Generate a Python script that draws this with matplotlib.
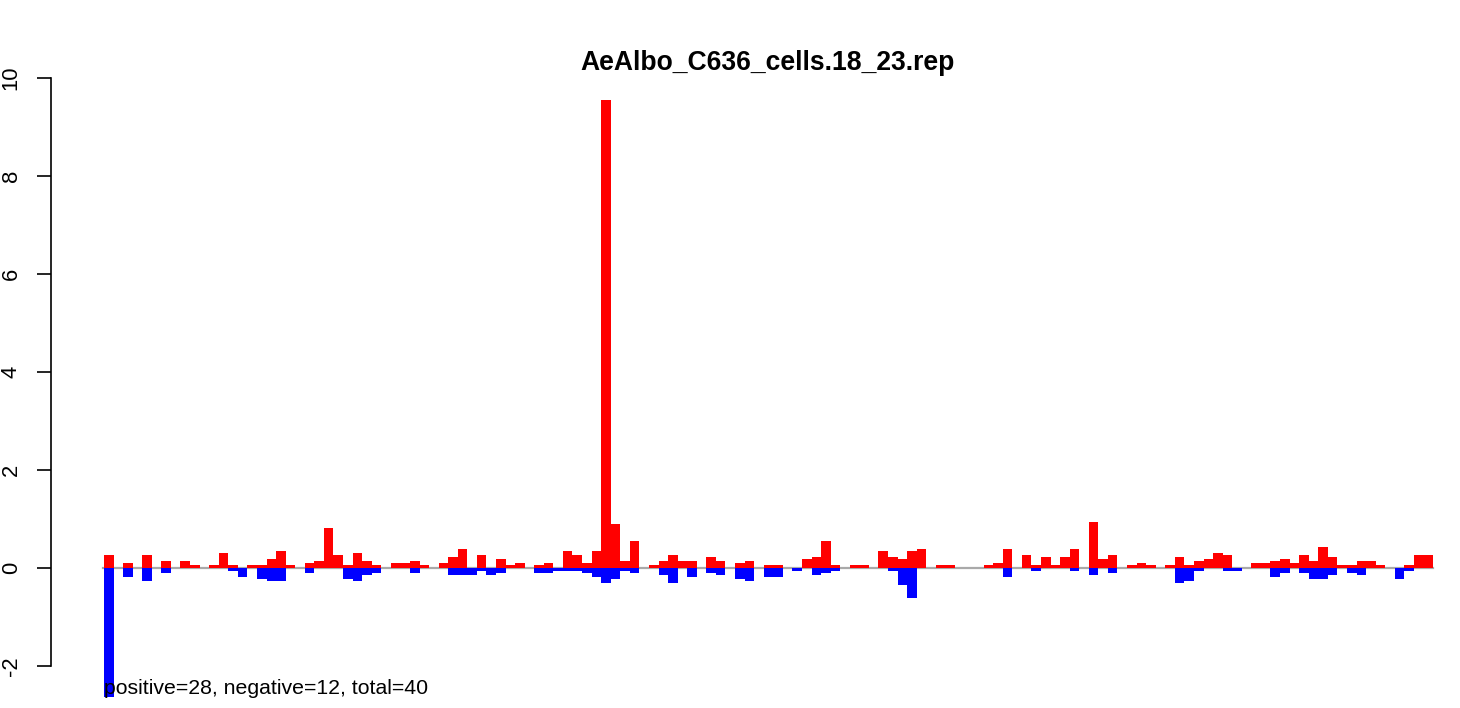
import matplotlib
matplotlib.use("Agg")
import matplotlib.pyplot as plt
import numpy as np

title = "AeAlbo_C636_cells.18_23.rep"

pos_vals = [
    0.26, 0, 0.10, 0, 0.26, 0, 0.14, 0, 0.14, 0.05,
    0, 0.05, 0.30, 0.05, 0, 0.05, 0.05, 0.18, 0.34, 0.05,
    0, 0.10, 0.14, 0.81, 0.26, 0.05, 0.30, 0.14, 0.05, 0,
    0.10, 0.10, 0.14, 0.05, 0, 0.10, 0.22, 0.38, 0, 0.26,
    0, 0.18, 0.05, 0.10, 0, 0.05, 0.10, 0, 0.34, 0.26,
    0.10, 0.34, 9.55, 0.89, 0.14, 0.54, 0, 0.05, 0.14, 0.26,
    0.14, 0.14, 0, 0.22, 0.14, 0, 0.10, 0.14, 0, 0.05,
    0.05, 0, 0, 0.18, 0.22, 0.54, 0.05, 0, 0.05, 0.05,
    0, 0.34, 0.22, 0.18, 0.34, 0.38, 0, 0.05, 0.05, 0,
    0, 0, 0.05, 0.10, 0.38, 0, 0.26, 0.05, 0.22, 0.05,
    0.22, 0.38, 0, 0.93, 0.18, 0.26, 0, 0.05, 0.10, 0.05,
    0, 0.05, 0.22, 0.05, 0.14, 0.18, 0.30, 0.26, 0, 0,
    0.10, 0.10, 0.14, 0.18, 0.10, 0.26, 0.14, 0.42, 0.22, 0.05,
    0.05, 0.14, 0.14, 0.05, 0, 0, 0.05, 0.26, 0.26,
]

neg_vals = [
    -2.63, 0, -0.19, 0, -0.27, 0, -0.11, 0, 0, 0,
    0, 0, 0, -0.07, -0.19, 0, -0.23, -0.27, -0.27, 0,
    0, -0.11, 0, 0, 0, -0.23, -0.27, -0.15, -0.11, 0,
    0, 0, -0.11, 0, 0, 0, -0.15, -0.15, -0.15, -0.07,
    -0.15, -0.11, 0, 0, 0, -0.11, -0.11, -0.07, -0.07, -0.07,
    -0.11, -0.19, -0.31, -0.23, -0.07, -0.11, 0, 0, -0.15, -0.31,
    0, -0.19, 0, -0.11, -0.15, 0, -0.23, -0.27, 0, -0.19,
    -0.19, 0, -0.07, 0, -0.15, -0.11, -0.07, 0, 0, 0,
    0, 0, -0.07, -0.35, -0.62, 0, 0, 0, 0, 0,
    0, 0, 0, 0, -0.19, 0, 0, -0.07, 0, 0,
    0, -0.07, 0, -0.15, 0, -0.11, 0, 0, 0, 0,
    0, 0, -0.31, -0.27, -0.07, 0, 0, -0.07, -0.07, 0,
    0, 0, -0.19, -0.11, 0, -0.11, -0.23, -0.23, -0.15, 0,
    -0.11, -0.15, 0, 0, 0, -0.23, -0.07, 0, 0,
]

n_positive, n_negative, n_total = 28, 12, 40
y_ticks = [-2, 0, 2, 4, 6, 8, 10]

W, H = 1460, 708
fig = plt.figure(figsize=(W / 100, H / 100), dpi=100)

# pixel geometry
ax_left_px, ax_right_px = 51, 1440
bar_left_px, bar_right_px = 104, 1433
zero_px, unit_px = 567.7, 49.0
n = len(pos_vals)
px_per_bar = (bar_right_px - bar_left_px) / n

ax = fig.add_axes([ax_left_px / W, 0, (ax_right_px - ax_left_px) / W, 1])
ax.set_xlim(-(bar_left_px - ax_left_px) / px_per_bar,
            n + (ax_right_px - bar_right_px) / px_per_bar)
ax.set_ylim((zero_px - H) / unit_px, zero_px / unit_px)

x = np.arange(n)
ax.plot([-0.1, n], [0, 0], color="#A9A9A9", lw=1.6, zorder=1)
ax.bar(x, pos_vals, width=1.0, align="edge", color="#FF0000", linewidth=0, zorder=2)
ax.bar(x, neg_vals, width=1.0, align="edge", color="#0000FF", linewidth=0, zorder=2)

for s in ["top", "right", "bottom"]:
    ax.spines[s].set_visible(False)
ax.spines["left"].set_bounds(-2, 10)
ax.spines["left"].set_linewidth(1.2)
ax.set_xticks([])
ax.set_yticks(y_ticks)
ax.set_yticklabels([str(v) for v in y_ticks], rotation=90, va="center",
                   fontsize=15.8, family="Liberation Sans")
ax.tick_params(axis="y", direction="out", length=10, width=1.2, pad=11)
ax.patch.set_alpha(0)

fig.text(768 / W, 1 - 63 / H, title, ha="center", va="center",
         fontsize=19.1, fontweight="bold", family="Liberation Sans")
fig.text(bar_left_px / W, 1 - 694 / H,
         f"positive={n_positive}, negative={n_negative}, total={n_total}",
         ha="left", va="baseline", fontsize=15.3, family="Liberation Sans")

fig.savefig("out.png", dpi=100)
